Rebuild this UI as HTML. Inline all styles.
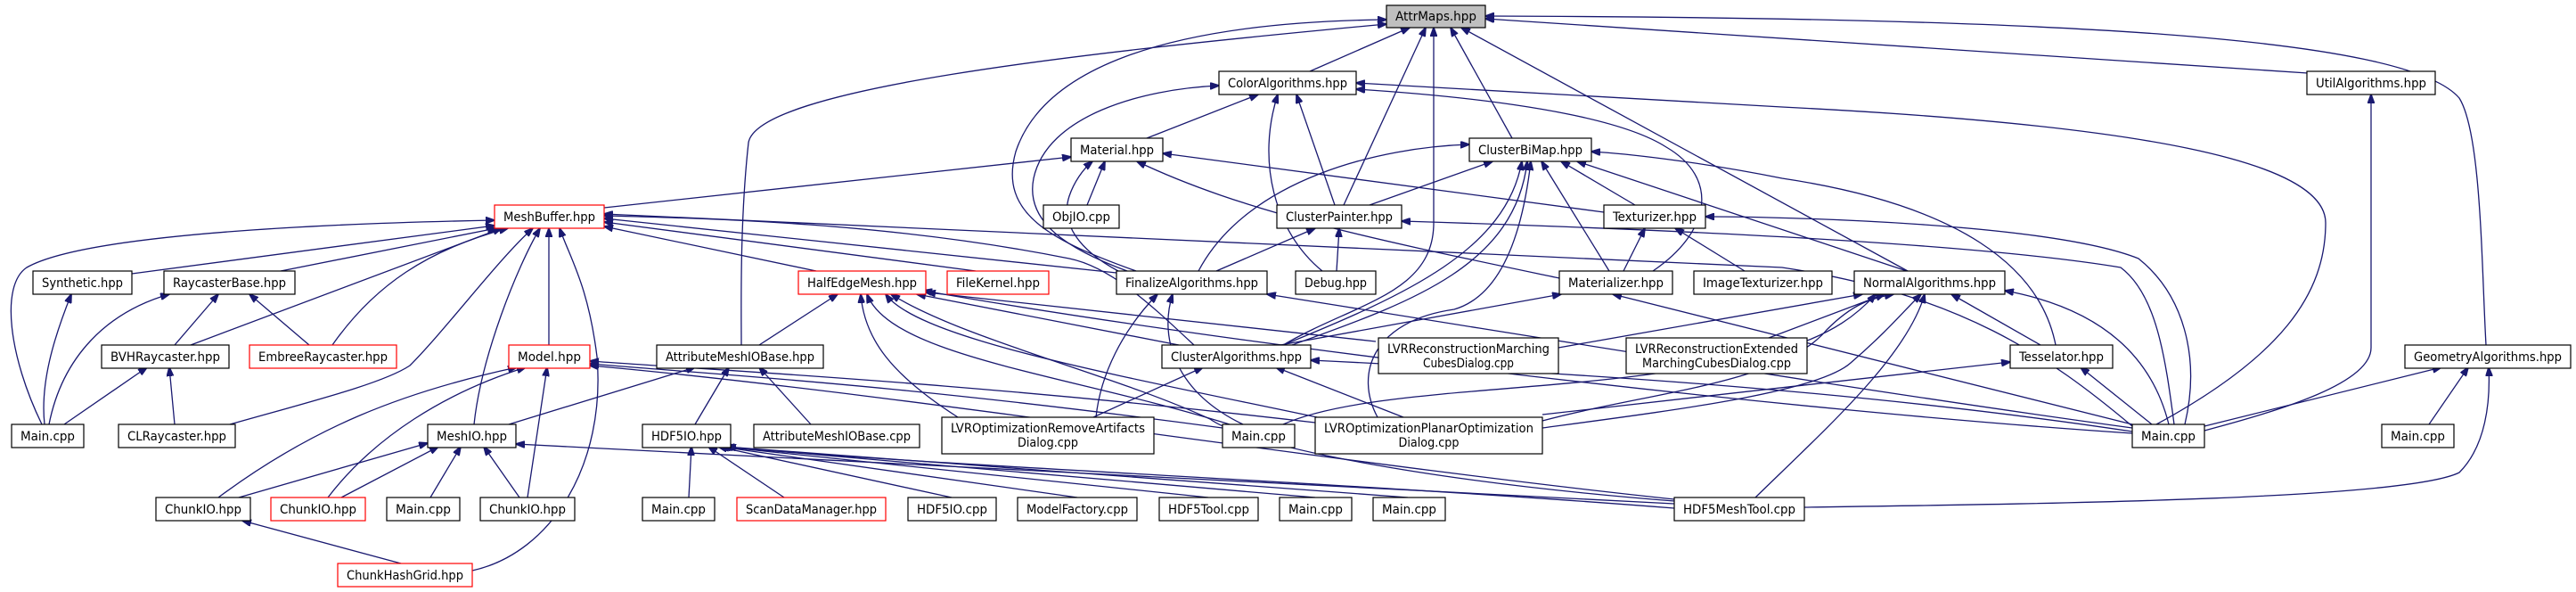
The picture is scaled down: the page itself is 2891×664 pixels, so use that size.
<!DOCTYPE html>
<html><head><meta charset="utf-8"><style>
html,body{margin:0;padding:0;background:#fff;}
svg{display:block;}
text{font-family:"DejaVu Sans Condensed","DejaVu Sans","Liberation Sans",sans-serif;font-size:14px;fill:#000;text-anchor:middle;}
.e{fill:none;stroke:#191970;stroke-width:1.3;marker-end:url(#ah);}
.n{fill:#fff;stroke:#000;stroke-width:1.2;}
.r{fill:#fff;stroke:#ff0000;stroke-width:1.2;}
.g{fill:#bfbfbf;stroke:#000;stroke-width:1.2;}
</style></head><body>
<svg width="2891" height="664" viewBox="0 0 2891 664" xmlns="http://www.w3.org/2000/svg">
<defs><marker id="ah" markerWidth="11" markerHeight="8" refX="10" refY="4" orient="auto" markerUnits="userSpaceOnUse"><path d="M0,0 L11,4 L0,8 z" fill="#191970" stroke="#191970"/></marker></defs>
<g>
<!-- to AttrMaps -->
<path class="e" d="M1470,80 L1582,31"/>
<path class="e" d="M1508,230 L1600,31"/>
<path class="e" d="M1440,387 C1520,340 1609,330 1609,250 L1609,31"/>
<path class="e" d="M1697,155 L1628,31"/>
<path class="e" d="M2141,304 L1640,31"/>
<path class="e" d="M2590,82 L1667,21"/>
<path class="e" d="M2790,387 C2785,300 2785,150 2760,110 C2700,40 2300,20 1667,18"/>
<path class="e" d="M1275,304 C1180,270 1120,240 1140,170 C1170,80 1300,25 1556,22"/>
<path class="e" d="M832,387 C832,350 830,250 840,160 C850,100 1200,60 1556,27"/>
<!-- to ColorAlgorithms -->
<path class="e" d="M1287,155 L1412,106"/>
<path class="e" d="M1498,230 L1455,106"/>
<path class="e" d="M1484,304 C1430,260 1410,180 1434,106"/>
<path class="e" d="M1265,304 C1200,280 1150,250 1160,200 C1175,130 1280,100 1368,96"/>
<path class="e" d="M1855,304 C1920,260 1930,200 1870,165 C1800,120 1600,105 1522,100"/>
<path class="e" d="M2420,476 C2560,400 2610,330 2610,250 C2610,180 2400,140 2000,120 L1522,93"/>
<!-- to Material -->
<path class="e" d="M678,233 L1202,176"/>
<path class="e" d="M1220,230 L1240,181"/>
<path class="e" d="M1800,238 L1305,172"/>
<path class="e" d="M1750,312 C1550,270 1400,240 1276,181"/>
<path class="e" d="M1255,304 C1210,280 1190,250 1200,220 C1205,205 1215,190 1226,181"/>
<!-- to ClusterBiMap -->
<path class="e" d="M1537,230 L1675,181"/>
<path class="e" d="M1345,304 C1400,200 1550,165 1649,162"/>
<path class="e" d="M1835,230 L1752,181"/>
<path class="e" d="M1806,304 L1730,181"/>
<path class="e" d="M2140,304 L1770,181"/>
<path class="e" d="M1440,387 C1580,330 1690,280 1708,181"/>
<path class="e" d="M1450,387 C1580,340 1700,300 1714,181"/>
<path class="e" d="M1546,468 C1520,420 1540,360 1632,347 C1690,330 1710,250 1718,181"/>
<path class="e" d="M2307,387 C2290,300 2200,230 2000,200 C1900,180 1820,172 1786,170"/>
<!-- to ClusterPainter -->
<path class="e" d="M1365,304 L1476,256"/>
<path class="e" d="M1500,304 L1503,256"/>
<path class="e" d="M2440,476 C2430,400 2420,330 2380,300 C2200,270 1800,255 1573,248"/>
<!-- to Texturizer -->
<path class="e" d="M1822,304 L1846,256"/>
<path class="e" d="M1958,304 L1880,256"/>
<path class="e" d="M2452,476 C2470,400 2450,330 2400,290 C2300,250 2000,243 1914,243"/>
<!-- to Materializer -->
<path class="e" d="M1437,387 L1752,330"/>
<path class="e" d="M2393,476 L1810,330"/>
<!-- to NormalAlgorithms -->
<path class="e" d="M1749,390 L2090,330"/>
<path class="e" d="M1985,379 L2115,330"/>
<path class="e" d="M2290,387 L2190,330"/>
<path class="e" d="M2434,476 C2420,420 2380,350 2250,326"/>
<path class="e" d="M1731,472 C1850,440 2000,430 2050,370 C2080,340 2100,335 2125,330"/>
<path class="e" d="M1731,480 C1880,460 2040,440 2077,407 C2120,370 2140,345 2156,330"/>
<path class="e" d="M1970,558 C2050,480 2140,400 2160,330"/>
<path class="e" d="M1440,476 C1520,440 1700,440 1850,420 C2000,400 2060,380 2105,330"/>
<!-- Tesselator, Geometry, Util -->
<path class="e" d="M1731,465 L2256,406"/>
<path class="e" d="M2415,476 L2335,412"/>
<path class="e" d="M2474,478 L2740,412"/>
<path class="e" d="M2726,476 L2770,412"/>
<path class="e" d="M2025,569 C2300,565 2700,560 2760,530 C2790,500 2795,450 2793,412"/>
<path class="e" d="M2474,483 C2560,460 2661,430 2661,390 L2661,106"/>
<!-- ClusterAlgorithms -->
<path class="e" d="M1227,468 L1350,412"/>
<path class="e" d="M1575,468 L1432,412"/>
<path class="e" d="M2393,484 C2100,440 1800,420 1471,404"/>
<!-- FinalizeAlgorithms -->
<path class="e" d="M1230,468 C1235,420 1260,370 1299,330"/>
<path class="e" d="M1395,476 C1320,440 1300,380 1316,330"/>
<path class="e" d="M2393,480 C2100,440 1800,390 1422,330"/>
<!-- HalfEdgeMesh -->
<path class="e" d="M852,387 L940,330"/>
<path class="e" d="M1075,468 C1000,420 970,380 966,330"/>
<path class="e" d="M1380,476 C1200,420 1000,400 973,330"/>
<path class="e" d="M1478,468 C1250,420 1030,380 994,330"/>
<path class="e" d="M1323,387 L1029,330"/>
<path class="e" d="M1544,383 L1040,328"/>
<path class="e" d="M2393,486 C2000,460 1400,390 1036,326"/>
<path class="e" d="M1879,562 C1600,540 1400,500 1358,470 C1250,420 1080,380 1000,330"/>
<!-- MeshBuffer -->
<path class="e" d="M47,476 C10,400 0,320 30,300 C100,260 400,250 555,247"/>
<path class="e" d="M148,307 L555,253"/>
<path class="e" d="M315,304 L557,256"/>
<path class="e" d="M214,387 L563,256"/>
<path class="e" d="M373,387 C420,320 480,280 570,256"/>
<path class="e" d="M258,476 C350,450 430,430 460,410 C500,370 560,290 598,256"/>
<path class="e" d="M532,476 C540,400 580,300 606,256"/>
<path class="e" d="M616,387 L616,256"/>
<path class="e" d="M530,640 C620,620 680,520 670,400 C660,320 640,290 628,256"/>
<path class="e" d="M916,304 L678,254"/>
<path class="e" d="M1095,304 L678,249"/>
<path class="e" d="M1253,306 L678,245"/>
<path class="e" d="M1340,387 C1300,350 1250,300 1200,290 C1000,250 800,245 678,242"/>
<path class="e" d="M2393,478 C2300,400 2200,330 2000,300 L678,240"/>
<!-- Left cluster -->
<path class="e" d="M50,476 C45,430 60,380 80,330"/>
<path class="e" d="M55,476 C70,400 120,350 190,330"/>
<path class="e" d="M72,476 L165,412"/>
<path class="e" d="M196,387 L245,330"/>
<path class="e" d="M347,387 L280,330"/>
<path class="e" d="M196,476 L190,412"/>
<!-- MeshIO -->
<path class="e" d="M268,558 L480,497"/>
<path class="e" d="M383,558 L492,501"/>
<path class="e" d="M483,558 L517,501"/>
<path class="e" d="M583,558 L543,501"/>
<path class="e" d="M571,476 L780,412"/>
<path class="e" d="M1879,565 C1500,545 900,515 579,498"/>
<!-- Model -->
<path class="e" d="M245,558 C350,480 450,440 580,412"/>
<path class="e" d="M368,558 C420,490 500,440 590,412"/>
<path class="e" d="M592,558 L614,412"/>
<path class="e" d="M1372,480 C1000,430 800,420 662,408"/>
<path class="e" d="M1476,474 C1100,430 800,415 662,405"/>
<path class="e" d="M1879,560 C1500,520 1000,440 662,410"/>
<!-- ChunkHashGrid -->
<path class="e" d="M450,632 L272,584"/>
<!-- HDF5IO -->
<path class="e" d="M773,558 L776,501"/>
<path class="e" d="M880,558 L795,501"/>
<path class="e" d="M1068,558 L806,501"/>
<path class="e" d="M1209,558 L808,501"/>
<path class="e" d="M1356,558 L810,501"/>
<path class="e" d="M1476,558 L812,501"/>
<path class="e" d="M1580,558 L814,501"/>
<path class="e" d="M1879,570 C1500,540 1000,520 816,501"/>
<path class="e" d="M780,476 L818,412"/>
<path class="e" d="M910,476 L852,412"/>
</g>
<g>
<rect class="g" x="1556" y="6" width="111" height="25"/><text x="1611.5" y="23" textLength="91" lengthAdjust="spacingAndGlyphs">AttrMaps.hpp</text>
<rect class="n" x="1368" y="80" width="154" height="26"/><text x="1445" y="98" textLength="134" lengthAdjust="spacingAndGlyphs">ColorAlgorithms.hpp</text>
<rect class="n" x="2589" y="80" width="144" height="26"/><text x="2661" y="98" textLength="124" lengthAdjust="spacingAndGlyphs">UtilAlgorithms.hpp</text>
<rect class="n" x="1202" y="155" width="103" height="26"/><text x="1253.5" y="173" textLength="83" lengthAdjust="spacingAndGlyphs">Material.hpp</text>
<rect class="n" x="1649" y="155" width="137" height="26"/><text x="1717.5" y="173" textLength="117" lengthAdjust="spacingAndGlyphs">ClusterBiMap.hpp</text>
<rect class="r" x="555" y="230" width="123" height="26"/><text x="616.5" y="248" textLength="103" lengthAdjust="spacingAndGlyphs">MeshBuffer.hpp</text>
<rect class="n" x="1171" y="230" width="85" height="26"/><text x="1213.5" y="248" textLength="65" lengthAdjust="spacingAndGlyphs">ObjIO.cpp</text>
<rect class="n" x="1433" y="230" width="140" height="26"/><text x="1503" y="248" textLength="120" lengthAdjust="spacingAndGlyphs">ClusterPainter.hpp</text>
<rect class="n" x="1800" y="230" width="114" height="26"/><text x="1857" y="248" textLength="94" lengthAdjust="spacingAndGlyphs">Texturizer.hpp</text>
<rect class="n" x="37" y="304" width="111" height="26"/><text x="92.5" y="322" textLength="91" lengthAdjust="spacingAndGlyphs">Synthetic.hpp</text>
<rect class="n" x="184" y="304" width="147" height="26"/><text x="257.5" y="322" textLength="127" lengthAdjust="spacingAndGlyphs">RaycasterBase.hpp</text>
<rect class="r" x="896" y="304" width="143" height="26"/><text x="967.5" y="322" textLength="123" lengthAdjust="spacingAndGlyphs">HalfEdgeMesh.hpp</text>
<rect class="r" x="1063" y="304" width="114" height="26"/><text x="1120" y="322" textLength="94" lengthAdjust="spacingAndGlyphs">FileKernel.hpp</text>
<rect class="n" x="1253" y="304" width="169" height="26"/><text x="1337.5" y="322" textLength="149" lengthAdjust="spacingAndGlyphs">FinalizeAlgorithms.hpp</text>
<rect class="n" x="1454" y="304" width="90" height="26"/><text x="1499" y="322" textLength="70" lengthAdjust="spacingAndGlyphs">Debug.hpp</text>
<rect class="n" x="1750" y="304" width="127" height="26"/><text x="1813.5" y="322" textLength="107" lengthAdjust="spacingAndGlyphs">Materializer.hpp</text>
<rect class="n" x="1901" y="304" width="155" height="26"/><text x="1978.5" y="322" textLength="135" lengthAdjust="spacingAndGlyphs">ImageTexturizer.hpp</text>
<rect class="n" x="2081" y="304" width="169" height="26"/><text x="2165.5" y="322" textLength="149" lengthAdjust="spacingAndGlyphs">NormalAlgorithms.hpp</text>
<rect class="n" x="114" y="387" width="143" height="26"/><text x="185.5" y="405" textLength="123" lengthAdjust="spacingAndGlyphs">BVHRaycaster.hpp</text>
<rect class="r" x="280" y="387" width="165" height="26"/><text x="362.5" y="405" textLength="145" lengthAdjust="spacingAndGlyphs">EmbreeRaycaster.hpp</text>
<rect class="r" x="571" y="387" width="91" height="26"/><text x="616.5" y="405" textLength="71" lengthAdjust="spacingAndGlyphs">Model.hpp</text>
<rect class="n" x="737" y="387" width="187" height="26"/><text x="830.5" y="405" textLength="167" lengthAdjust="spacingAndGlyphs">AttributeMeshIOBase.hpp</text>
<rect class="n" x="1304" y="387" width="167" height="26"/><text x="1387.5" y="405" textLength="147" lengthAdjust="spacingAndGlyphs">ClusterAlgorithms.hpp</text>
<rect class="n" x="1547" y="379" width="202" height="40"/><text x="1648" y="396" textLength="182" lengthAdjust="spacingAndGlyphs">LVRReconstructionMarching</text><text x="1648" y="412" textLength="102" lengthAdjust="spacingAndGlyphs">CubesDialog.cpp</text>
<rect class="n" x="1825" y="379" width="203" height="40"/><text x="1926.5" y="396" textLength="183" lengthAdjust="spacingAndGlyphs">LVRReconstructionExtended</text><text x="1926.5" y="412" textLength="167" lengthAdjust="spacingAndGlyphs">MarchingCubesDialog.cpp</text>
<rect class="n" x="2256" y="387" width="115" height="26"/><text x="2313.5" y="405" textLength="95" lengthAdjust="spacingAndGlyphs">Tesselator.hpp</text>
<rect class="n" x="2699" y="387" width="186" height="26"/><text x="2792" y="405" textLength="166" lengthAdjust="spacingAndGlyphs">GeometryAlgorithms.hpp</text>
<rect class="n" x="13" y="476" width="81" height="26"/><text x="53.5" y="494" textLength="61" lengthAdjust="spacingAndGlyphs">Main.cpp</text>
<rect class="n" x="133" y="476" width="131" height="26"/><text x="198.5" y="494" textLength="111" lengthAdjust="spacingAndGlyphs">CLRaycaster.hpp</text>
<rect class="n" x="480" y="476" width="99" height="26"/><text x="529.5" y="494" textLength="79" lengthAdjust="spacingAndGlyphs">MeshIO.hpp</text>
<rect class="n" x="721" y="476" width="99" height="26"/><text x="770.5" y="494" textLength="79" lengthAdjust="spacingAndGlyphs">HDF5IO.hpp</text>
<rect class="n" x="846" y="476" width="186" height="26"/><text x="939" y="494" textLength="166" lengthAdjust="spacingAndGlyphs">AttributeMeshIOBase.cpp</text>
<rect class="n" x="1057" y="468" width="238" height="41"/><text x="1176" y="485" textLength="218" lengthAdjust="spacingAndGlyphs">LVROptimizationRemoveArtifacts</text><text x="1176" y="501" textLength="68" lengthAdjust="spacingAndGlyphs">Dialog.cpp</text>
<rect class="n" x="1372" y="476" width="81" height="26"/><text x="1412.5" y="494" textLength="61" lengthAdjust="spacingAndGlyphs">Main.cpp</text>
<rect class="n" x="1476" y="468" width="255" height="41"/><text x="1603.5" y="485" textLength="235" lengthAdjust="spacingAndGlyphs">LVROptimizationPlanarOptimization</text><text x="1603.5" y="501" textLength="68" lengthAdjust="spacingAndGlyphs">Dialog.cpp</text>
<rect class="n" x="2393" y="476" width="81" height="26"/><text x="2433.5" y="494" textLength="61" lengthAdjust="spacingAndGlyphs">Main.cpp</text>
<rect class="n" x="2673" y="476" width="81" height="26"/><text x="2713.5" y="494" textLength="61" lengthAdjust="spacingAndGlyphs">Main.cpp</text>
<rect class="n" x="175" y="558" width="106" height="26"/><text x="228" y="576" textLength="86" lengthAdjust="spacingAndGlyphs">ChunkIO.hpp</text>
<rect class="r" x="304" y="558" width="106" height="26"/><text x="357" y="576" textLength="86" lengthAdjust="spacingAndGlyphs">ChunkIO.hpp</text>
<rect class="n" x="434" y="558" width="82" height="26"/><text x="475" y="576" textLength="62" lengthAdjust="spacingAndGlyphs">Main.cpp</text>
<rect class="n" x="539" y="558" width="106" height="26"/><text x="592" y="576" textLength="86" lengthAdjust="spacingAndGlyphs">ChunkIO.hpp</text>
<rect class="n" x="721" y="558" width="81" height="26"/><text x="761.5" y="576" textLength="61" lengthAdjust="spacingAndGlyphs">Main.cpp</text>
<rect class="r" x="827" y="558" width="167" height="26"/><text x="910.5" y="576" textLength="147" lengthAdjust="spacingAndGlyphs">ScanDataManager.hpp</text>
<rect class="n" x="1019" y="558" width="99" height="26"/><text x="1068.5" y="576" textLength="79" lengthAdjust="spacingAndGlyphs">HDF5IO.cpp</text>
<rect class="n" x="1142" y="558" width="134" height="26"/><text x="1209" y="576" textLength="114" lengthAdjust="spacingAndGlyphs">ModelFactory.cpp</text>
<rect class="n" x="1301" y="558" width="111" height="26"/><text x="1356.5" y="576" textLength="91" lengthAdjust="spacingAndGlyphs">HDF5Tool.cpp</text>
<rect class="n" x="1436" y="558" width="81" height="26"/><text x="1476.5" y="576" textLength="61" lengthAdjust="spacingAndGlyphs">Main.cpp</text>
<rect class="n" x="1541" y="558" width="81" height="26"/><text x="1581.5" y="576" textLength="61" lengthAdjust="spacingAndGlyphs">Main.cpp</text>
<rect class="n" x="1879" y="558" width="146" height="26"/><text x="1952" y="576" textLength="126" lengthAdjust="spacingAndGlyphs">HDF5MeshTool.cpp</text>
<rect class="r" x="379" y="632" width="151" height="26"/><text x="454.5" y="650" textLength="131" lengthAdjust="spacingAndGlyphs">ChunkHashGrid.hpp</text>
</g>
</svg>
</body></html>
